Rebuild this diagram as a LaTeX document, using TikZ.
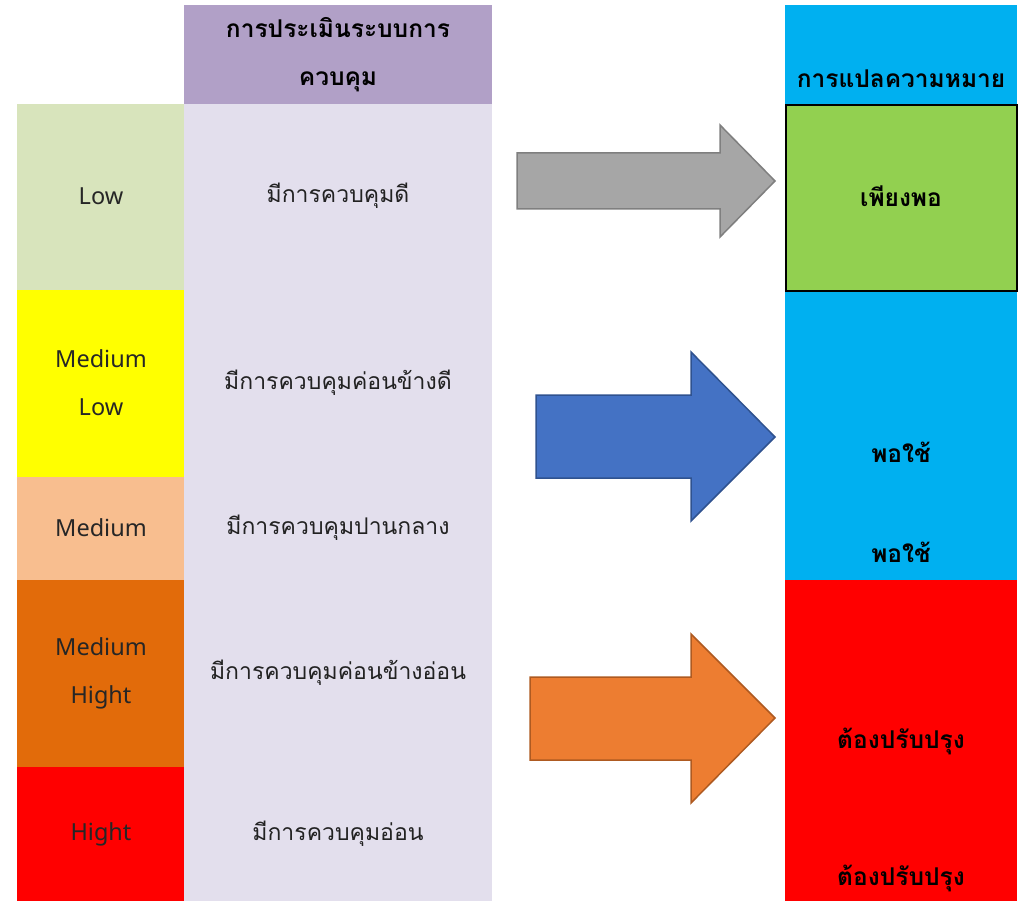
\documentclass[tikz,border=0pt]{standalone}
\usepackage{fontspec}
\setmainfont{Noto Sans}
\newfontfamily\thaifont[Script=Thai]{Loma}
\definecolor{cLow}{HTML}{D8E4BC}
\definecolor{cMedLow}{HTML}{FFFF00}
\definecolor{cMed}{HTML}{F8BE8F}
\definecolor{cMedHigh}{HTML}{E26B0A}
\definecolor{cHigh}{HTML}{FF0000}
\definecolor{cHead}{HTML}{B1A0C7}
\definecolor{cBody}{HTML}{E3DFED}
\definecolor{cBlue}{HTML}{00B0F0}
\definecolor{cGreen}{HTML}{92D050}
\definecolor{aGrayF}{HTML}{A6A6A6}
\definecolor{aGrayD}{HTML}{7F7F7F}
\definecolor{aBlueF}{HTML}{4472C4}
\definecolor{aBlueD}{HTML}{2F528F}
\definecolor{aOrF}{HTML}{ED7D31}
\definecolor{aOrD}{HTML}{AE5A21}
\tikzset{
  cell/.style={inner sep=0pt, outer sep=0pt, anchor=north west},
  lvl/.style={font=\fontsize{23.5}{48}\selectfont\color[HTML]{262626}, align=center},
  thbody/.style={font=\thaifont\fontsize{23}{30}\selectfont\color[HTML]{222222}},
  thbold/.style={font=\thaifont\bfseries\fontsize{24.5}{48}\selectfont, align=center},
  bigarrow/.style={line width=1.5pt, line join=miter},
}
\begin{document}
\begin{tikzpicture}[x=1pt,y=-1pt]
\useasboundingbox (0,0) rectangle (1023,901);
% left column
\node[cell, fill=cLow, minimum width=167pt, minimum height=186pt] (low) at (17,104) {};
\node[cell, fill=cMedLow, minimum width=167pt, minimum height=187pt] (medlow) at (17,290) {};
\node[cell, fill=cMed, minimum width=167pt, minimum height=103pt] (med) at (17,477) {};
\node[cell, fill=cMedHigh, minimum width=167pt, minimum height=187pt] (medhigh) at (17,580) {};
\node[cell, fill=cHigh, minimum width=167pt, minimum height=134pt] (high) at (17,767) {};
\node[lvl] (tlow) at (101,196) {Low};
\node[lvl] (tmedlow) at (101,383) {Medium\\Low};
\node[lvl] (tmed) at (101,528) {Medium};
\node[lvl] (tmedhigh) at (101,673) {Medium\\Hight};
\node[lvl] (thigh) at (101,834) {Hight};
% middle column
\node[cell, fill=cHead, minimum width=308pt, minimum height=99pt] (head) at (184,5) {};
\node[cell, fill=cBody, minimum width=308pt, minimum height=797pt] (body) at (184,104) {};
\node[thbold] (thead) at (338,55) {การประเมินระบบการ\\ควบคุม};
\node[thbody] (b1) at (338,196) {มีการควบคุมดี};
\node[thbody] (b2) at (338,383) {มีการควบคุมค่อนข้างดี};
\node[thbody] (b3) at (338,528) {มีการควบคุมปานกลาง};
\node[thbody] (b4) at (338,673) {มีการควบคุมค่อนข้างอ่อน};
\node[thbody] (b5) at (338,834) {มีการควบคุมอ่อน};
% right column
\node[cell, fill=cBlue, minimum width=232pt, minimum height=575pt] (rblue) at (785,5) {};
\node[cell, fill=cHigh, minimum width=232pt, minimum height=321pt] (rred) at (785,580) {};
\node[cell, fill=cGreen, draw=black, line width=2.5pt, minimum width=231pt, minimum height=186pt] (rgreen) at (786,105) {};
\node[thbold] (rhead) at (901,79) {การแปลความหมาย};
\node[thbold] (r1) at (901,196) {เพียงพอ};
\node[thbold] (r2) at (901,452) {พอใช้};
\node[thbold] (r3) at (901,552) {พอใช้};
\node[thbold] (r4) at (901,741) {ต้องปรับปรุง};
\node[thbold] (r5) at (901,878) {ต้องปรับปรุง};
% arrows
\draw[bigarrow, fill=aGrayF, draw=aGrayD] (517,153) -- (720,153) -- (720,125) -- (775,181) -- (720,237) -- (720,209) -- (517,209) -- cycle;
\draw[bigarrow, fill=aBlueF, draw=aBlueD] (536,395) -- (691,395) -- (691,352) -- (775,437) -- (691,521) -- (691,478) -- (536,478) -- cycle;
\draw[bigarrow, fill=aOrF, draw=aOrD] (530,677) -- (691,677) -- (691,634) -- (775,718) -- (691,803) -- (691,760) -- (530,760) -- cycle;
\end{tikzpicture}
\end{document}
